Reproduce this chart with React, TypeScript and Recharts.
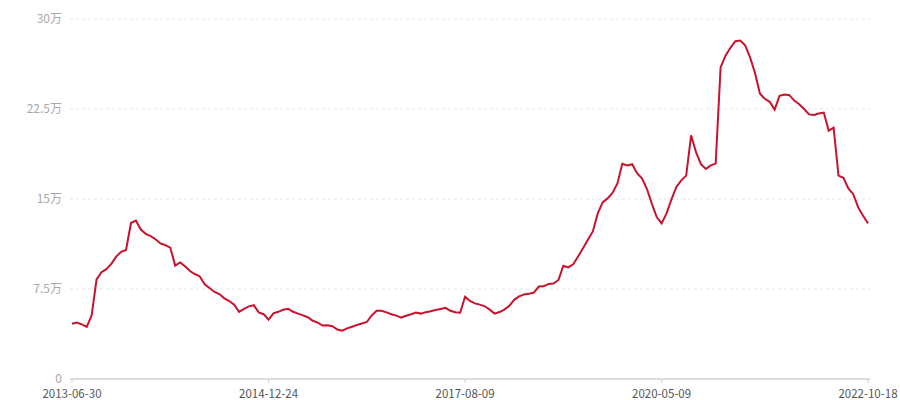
import { LineChart, Line, XAxis, YAxis, CartesianGrid } from "recharts";

// values in 万, one per sample along the x axis
const values = [
  4.6, 4.7, 4.55, 4.35, 5.3, 8.3, 8.9, 9.15, 9.6, 10.2,
  10.6, 10.75, 13.0, 13.2, 12.45, 12.1, 11.9, 11.65, 11.3, 11.15,
  10.95, 9.45, 9.72, 9.4, 9.0, 8.75, 8.55, 7.9, 7.58, 7.25,
  7.08, 6.72, 6.5, 6.2, 5.6, 5.85, 6.05, 6.15, 5.55, 5.4,
  4.95, 5.47, 5.6, 5.78, 5.85, 5.6, 5.45, 5.3, 5.15, 4.85,
  4.7, 4.45, 4.47, 4.4, 4.12, 4.03, 4.22, 4.36, 4.5, 4.62,
  4.75, 5.3, 5.68, 5.68, 5.55, 5.4, 5.28, 5.12, 5.27, 5.4,
  5.53, 5.45, 5.57, 5.64, 5.75, 5.84, 5.93, 5.68, 5.57, 5.52,
  6.86, 6.5, 6.3, 6.2, 6.06, 5.78, 5.45, 5.58, 5.78, 6.1,
  6.6, 6.88, 7.05, 7.1, 7.2, 7.7, 7.72, 7.92, 7.95, 8.25,
  9.44, 9.3, 9.56, 10.2, 10.9, 11.6, 12.3, 13.8, 14.72, 15.05,
  15.5, 16.3, 17.94, 17.8, 17.9, 17.15, 16.72, 15.85, 14.62, 13.5,
  12.97, 13.8, 14.97, 16.0, 16.55, 16.95, 20.3, 18.9, 17.9, 17.5,
  17.8, 17.95, 25.97, 26.95, 27.6, 28.15, 28.2, 27.8, 26.8, 25.5,
  23.8, 23.35, 23.1, 22.45, 23.6, 23.7, 23.65, 23.2, 22.9, 22.5,
  22.05, 22.0, 22.12, 22.2, 20.7, 20.95, 16.95, 16.77, 15.88, 15.4,
  14.3, 13.6, 12.97,
];

const tickIndexes = [0, 40, 80, 120, 162];
const tickDates = ["2013-06-30", "2014-12-24", "2017-08-09", "2020-05-09", "2022-10-18"];
const yTicks = [0, 7.5, 15, 22.5, 30];

const data = values.map((v, i) => ({ i, value: v }));

const font = '"Noto Sans CJK SC", "Noto Sans", sans-serif';

export default function App() {
  return (
    <div
      style={{
        position: "absolute",
        top: 0,
        left: 0,
        width: 900,
        height: 400,
        overflow: "hidden",
        background: "#fff",
        fontFamily: font,
      }}
    >
      <LineChart
        width={900}
        height={400}
        data={data}
        margin={{ top: 19, right: 30, left: 14, bottom: 0 }}
      >
        <CartesianGrid
          vertical={false}
          stroke="#e6e6e6"
          strokeDasharray="3 3"
        />
        <XAxis
          dataKey="i"
          type="category"
          ticks={tickIndexes}
          interval={0}
          padding={{ left: 2, right: 2 }}
          tickFormatter={(v: number) => tickDates[tickIndexes.indexOf(v)] ?? ""}
          axisLine={{ stroke: "#dcdcdc", strokeWidth: 2 }}
          tickLine={{ stroke: "#d0d0d0" }}
          tickSize={4}
          tickMargin={7}
          height={21}
          tick={{ fill: "#555", fontSize: 11.5, fontFamily: font }}
        />
        <YAxis
          domain={[0, 30]}
          ticks={yTicks}
          axisLine={false}
          tickLine={false}
          tickSize={0}
          tickMargin={8}
          width={56}
          tickFormatter={(v: number) => (v === 0 ? "0" : `${v}万`)}
          tick={{ fill: "#a8a8a8", fontSize: 12, fontFamily: font }}
        />
        <Line
          type="linear"
          dataKey="value"
          stroke="#c8132d"
          strokeWidth={2}
          dot={false}
          isAnimationActive={false}
        />
      </LineChart>
    </div>
  );
}
